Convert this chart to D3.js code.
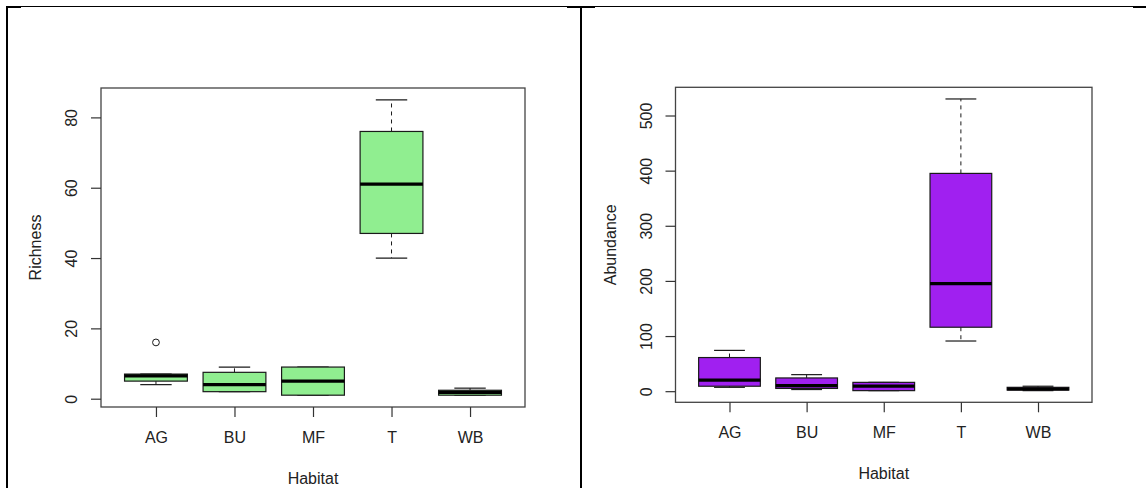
<!DOCTYPE html>
<html>
<head>
<meta charset="utf-8">
<script src="https://cdn.jsdelivr.net/npm/d3@7"></script>
<style>
  html, body { margin: 0; padding: 0; background: #fff; }
  svg { display: block; font-family: "Liberation Sans", Arial, sans-serif; }
</style>
</head>
<body>
<svg id="chart" width="1146" height="488"></svg>
<script>
// ---- data ----
const categories = ["AG", "BU", "MF", "T", "WB"];
// five-number summaries per habitat: [lower whisker, Q1, median, Q3, upper whisker]
const richnessMin    = [4, 2, 1, 40, 1];
const richnessQ1     = [5, 2, 1, 47, 1];
const richnessMedian = [6.5, 4, 5, 61, 1.8];
const richnessQ3     = [7, 7.5, 9, 76, 2.4];
const richnessMax    = [7, 9, 9, 85, 3];
const richnessOutliers = [{ cat: "AG", value: 16 }];
const richnessTicks = [0, 20, 40, 60, 80];

const abundanceMin    = [7, 3, 1, 91, 1];
const abundanceQ1     = [9, 5, 1, 116, 2];
const abundanceMedian = [20, 10, 9, 195, 4];
const abundanceQ3     = [61, 24, 16, 395, 7];
const abundanceMax    = [74, 30, 16, 530, 9];
const abundanceOutliers = [];
const abundanceTicks = [0, 100, 200, 300, 400, 500];

const svg = d3.select("#chart");

// ---- page frame (table borders) ----
const frame = svg.append("g").attr("stroke", "#000");
frame.append("line").attr("x1", 6).attr("x2", 1146).attr("y1", 6.5).attr("y2", 6.5).attr("stroke-width", 1);
[[6, 21], [567, 595], [1133, 1146]].forEach(([a, b]) => {
  frame.append("line").attr("x1", a).attr("x2", b).attr("y1", 7).attr("y2", 7).attr("stroke-width", 2);
});
frame.append("line").attr("x1", 7).attr("x2", 7).attr("y1", 6).attr("y2", 488).attr("stroke-width", 2);
frame.append("line").attr("x1", 581).attr("x2", 581).attr("y1", 6).attr("y2", 488).attr("stroke-width", 2);

function boxplot(opts) {
  const { x0, x1, y0, y1, mins, q1s, meds, q3s, maxs, outliers, ticks, fill, ylab } = opts;
  const g = svg.append("g");
  const allVals = mins.concat(maxs, outliers.map(o => o.value));
  const lo = d3.min(allVals), hi = d3.max(allVals);
  const ext = (hi - lo) * 0.04;
  const y = d3.scaleLinear().domain([lo - ext, hi + ext]).range([y1, y0]);
  const xs = d3.scaleLinear().domain([0.3, categories.length + 0.7]).range([x0, x1]);
  const pos = c => xs(categories.indexOf(c) + 1);
  const halfBox = xs(0.4) - xs(0);
  const halfStaple = xs(0.2) - xs(0);
  const stroke = "#1a1a1a";

  categories.forEach((c, i) => {
    const cx = pos(c);
    // whiskers (dashed)
    g.append("line").attr("x1", cx).attr("x2", cx).attr("y1", y(q3s[i])).attr("y2", y(maxs[i]))
      .attr("stroke", stroke).attr("stroke-width", 1).attr("stroke-dasharray", "4,4");
    g.append("line").attr("x1", cx).attr("x2", cx).attr("y1", y(q1s[i])).attr("y2", y(mins[i]))
      .attr("stroke", stroke).attr("stroke-width", 1).attr("stroke-dasharray", "4,4");
    // staples
    [maxs[i], mins[i]].forEach(v => {
      g.append("line").attr("x1", cx - halfStaple).attr("x2", cx + halfStaple)
        .attr("y1", y(v)).attr("y2", y(v)).attr("stroke", stroke).attr("stroke-width", 1.2);
    });
    // box
    g.append("rect").attr("x", cx - halfBox).attr("width", 2 * halfBox)
      .attr("y", y(q3s[i])).attr("height", Math.max(0.5, y(q1s[i]) - y(q3s[i])))
      .attr("fill", fill).attr("stroke", stroke).attr("stroke-width", 1.2);
    // median
    g.append("line").attr("x1", cx - halfBox).attr("x2", cx + halfBox)
      .attr("y1", y(meds[i])).attr("y2", y(meds[i])).attr("stroke", "#000").attr("stroke-width", 3.2);
  });
  outliers.forEach(o => {
    g.append("circle").attr("cx", pos(o.cat)).attr("cy", y(o.value)).attr("r", 3.4)
      .attr("fill", "none").attr("stroke", stroke).attr("stroke-width", 1);
  });

  // plot frame
  g.append("rect").attr("x", x0).attr("y", y0).attr("width", x1 - x0).attr("height", y1 - y0)
    .attr("fill", "none").attr("stroke", "#444").attr("stroke-width", 1.3);

  // y axis
  const yAxis = d3.axisLeft(y).tickValues(ticks).tickSize(10).tickPadding(0).tickFormat(d3.format("d"));
  const ya = g.append("g").attr("transform", `translate(${x0},0)`).call(yAxis);
  ya.select(".domain").remove();
  ya.selectAll(".tick line").attr("stroke", "#333").attr("stroke-width", 1.2);
  ya.selectAll(".tick text").attr("x", null).attr("dy", null)
    .attr("transform", "translate(-24,0) rotate(-90)")
    .attr("text-anchor", "middle").attr("y", 0)
    .attr("font-size", 16).attr("fill", "#222").attr("font-family", "Liberation Sans, Arial, sans-serif");

  // x axis
  const xAxis = d3.axisBottom(xs).tickValues(d3.range(1, categories.length + 1)).tickSize(10)
    .tickFormat(d => categories[d - 1]);
  const xa = g.append("g").attr("transform", `translate(0,${y1})`).call(xAxis);
  xa.select(".domain").remove();
  xa.selectAll(".tick line").attr("stroke", "#333").attr("stroke-width", 1.2);
  xa.selectAll(".tick text").attr("y", 36).attr("dy", null)
    .attr("font-size", 16).attr("fill", "#222").attr("font-family", "Liberation Sans, Arial, sans-serif");

  // titles
  g.append("text").attr("x", (x0 + x1) / 2).attr("y", y1 + 76.5).attr("text-anchor", "middle")
    .attr("font-size", 16).attr("fill", "#222").text("Habitat");
  g.append("text").attr("transform", `translate(${x0 - 60},${(y0 + y1) / 2}) rotate(-90)`)
    .attr("text-anchor", "middle").attr("font-size", 16).attr("fill", "#222").text(ylab);
}

boxplot({
  x0: 101, x1: 525, y0: 88, y1: 407,
  mins: richnessMin, q1s: richnessQ1, meds: richnessMedian, q3s: richnessQ3, maxs: richnessMax,
  outliers: richnessOutliers, ticks: richnessTicks, fill: "#90EE90", ylab: "Richness"
});
boxplot({
  x0: 675.5, x1: 1092, y0: 87.3, y1: 402.3,
  mins: abundanceMin, q1s: abundanceQ1, meds: abundanceMedian, q3s: abundanceQ3, maxs: abundanceMax,
  outliers: abundanceOutliers, ticks: abundanceTicks, fill: "#A020F0", ylab: "Abundance"
});
</script>
</body>
</html>
